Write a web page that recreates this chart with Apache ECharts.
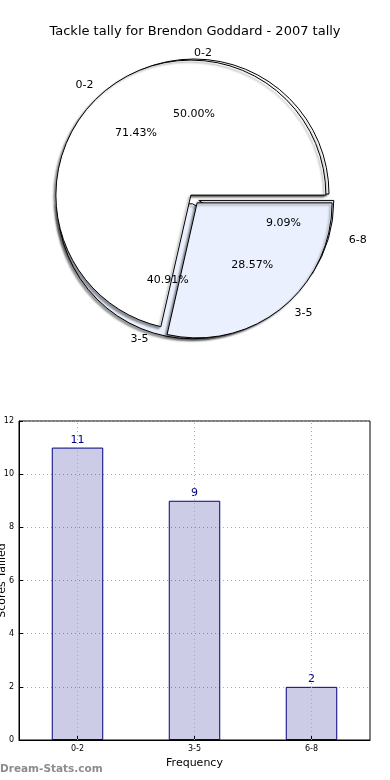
<!DOCTYPE html>
<html>
<head>
<meta charset="utf-8">
<script src="https://cdn.jsdelivr.net/npm/echarts@6/dist/echarts.min.js"></script>
<style>
  html, body { margin: 0; padding: 0; background: #fff; }
  #chart { width: 390px; height: 780px; }
</style>
</head>
<body>
<div id="chart"></div>
<script>
// ---- data ----
const chartTitle = 'Tackle tally for Brendon Goddard - 2007 tally';
const categories = ['0-2', '3-5', '6-8'];
const tallyValues = [11, 9, 2];
const overlayCategories = ['0-2', '3-5'];
const overlayValues = [5, 2];           // 71.43% / 28.57%
const yTickMin = 0, yTickMax = 12, yTickStep = 2;
const xAxisName = 'Frequency';
const yAxisName = 'Scores Tallied';
const watermark = 'Dream-Stats.com';

// ---- styling ----
const FONT = 'DejaVu Sans';
const CX = 194, CY = 199, R = 135;
const RX = 142, RY = 128;   // the reference pie is slightly elliptical; labels follow it
const EXPLODE = 5;
const sliceColors = ['#ffffff', '#eaf0fd', '#eaf0fd'];

function midAngles(values) {
  const sum = values.reduce((a, b) => a + b, 0);
  let cum = 0;
  return values.map(v => { const a = (cum + v / 2) / sum * 2 * Math.PI; cum += v; return a; });
}

function pieSlices(names, values) {
  return names.map((n, i) => ({
    name: n, value: values[i], selected: true,
    itemStyle: { color: sliceColors[i] }
  }));
}

function basePie(names, values, z) {
  return {
    type: 'pie', center: [CX, CY], radius: R,
    startAngle: 0, clockwise: false, z: z,
    selectedMode: 'multiple', selectedOffset: EXPLODE,
    silent: true, avoidLabelOverlap: false,
    label: { show: false }, labelLine: { show: false },
    emphasis: { disabled: true },
    itemStyle: {
      borderColor: '#000', borderWidth: 1,
      shadowColor: 'rgba(0,0,0,0.4)', shadowBlur: 2,
      shadowOffsetX: -2, shadowOffsetY: 2
    },
    data: pieSlices(names, values)
  };
}

function pctPie(names, values, z) {
  const sum = values.reduce((a, b) => a + b, 0);
  const mids = midAngles(values);
  const k = 0.6;
  return {
    type: 'pie', center: [CX, CY], radius: [0, RY * 2 * k],
    startAngle: 0, clockwise: false, z: z,
    selectedMode: 'multiple', selectedOffset: EXPLODE,
    silent: true, avoidLabelOverlap: false,
    itemStyle: { color: 'rgba(0,0,0,0)', borderWidth: 0 },
    emphasis: { disabled: true },
    labelLine: { show: false },
    data: names.map((n, i) => {
      const sx = k * (RX - RY) * Math.cos(mids[i]);
      const pad = [0, sx < 0 ? -2 * sx : 0, 0, sx > 0 ? 2 * sx : 0];
      return {
        name: n, value: values[i], selected: true,
        label: {
          show: true, position: 'inside', fontFamily: FONT, fontSize: 11, color: '#000',
          padding: pad,
          formatter: p => (p.value / sum * 100).toFixed(2) + '%'
        }
      };
    })
  };
}

function namePie(names, values, z) {
  const mids = midAngles(values);
  const k = 1.1;
  return {
    type: 'pie', center: [CX, CY], radius: RY * k,
    startAngle: 0, clockwise: false, z: z,
    selectedMode: 'multiple', selectedOffset: EXPLODE,
    silent: true, avoidLabelOverlap: false,
    itemStyle: { color: 'rgba(0,0,0,0)', borderWidth: 0 },
    emphasis: { disabled: true },
    labelLine: { show: false, length: 0, length2: 0 },
    data: names.map((n, i) => {
      const sx = k * (RX - RY) * Math.cos(mids[i]);
      const left = Math.cos(mids[i]) >= 0;
      const pad = [0, left ? 0 : Math.max(0, -sx), 0, left ? Math.max(0, sx) : 0];
      return {
        name: n, value: values[i], selected: true,
        label: {
          show: true, position: 'outside', fontFamily: FONT, fontSize: 11, color: '#000',
          distanceToLabelLine: 0, padding: pad, formatter: '{b}'
        }
      };
    })
  };
}

const chart = echarts.init(document.getElementById('chart'), null, { renderer: 'canvas' });

chart.setOption({
  animation: false,
  backgroundColor: '#fff',
  title: {
    text: chartTitle, left: 'center', top: 20,
    textStyle: { fontFamily: FONT, fontSize: 13, fontWeight: 'normal', color: '#000' }
  },
  graphic: [{
    type: 'text', left: 0, top: 764,
    style: { text: watermark, fontFamily: FONT, fontSize: 10.5, fontWeight: 'bold', fill: '#8c8c8c' }
  }],
  grid: {
    left: 19, right: 20, top: 421, bottom: 40,
    outerBoundsMode: 'none',
    show: true, borderColor: '#000', borderWidth: 1, containLabel: false
  },
  xAxis: {
    type: 'category', data: categories,
    name: xAxisName, nameLocation: 'middle', nameGap: 18, nameMoveOverlap: false,
    nameTextStyle: { fontFamily: FONT, fontSize: 11, color: '#000' },
    axisLine: { lineStyle: { color: '#000' } },
    axisTick: { show: true, alignWithLabel: true, inside: true, length: 4, lineStyle: { color: '#000' } },
    axisLabel: { fontFamily: FONT, fontSize: 8, color: '#000', margin: 5 },
    splitLine: { show: false }
  },
  yAxis: {
    type: 'value', min: yTickMin, max: yTickMax, interval: yTickStep,
    name: yAxisName, nameLocation: 'middle', nameGap: 17, nameMoveOverlap: false,
    nameRotate: 90,
    nameTextStyle: { fontFamily: FONT, fontSize: 11, color: '#000', verticalAlign: 'middle' },
    axisLine: { show: true, lineStyle: { color: '#000' } },
    axisTick: { show: true, inside: true, length: 4, lineStyle: { color: '#000' } },
    axisLabel: { fontFamily: FONT, fontSize: 8, color: '#000', margin: 5 },
    splitLine: { show: true, lineStyle: { color: '#aaa', type: [1, 3], width: 1 } }
  },
  series: [
    basePie(categories, tallyValues, 2),
    basePie(overlayCategories, overlayValues, 3),
    pctPie(categories, tallyValues, 4),
    pctPie(overlayCategories, overlayValues, 4),
    namePie(categories, tallyValues, 4),
    namePie(overlayCategories, overlayValues, 4),
    {
      type: 'bar', data: tallyValues, barWidth: '44%', silent: true,
      itemStyle: { color: 'rgba(0,0,128,0.2)', borderColor: '#000080', borderWidth: 1 },
      label: { show: true, position: 'top', distance: 2, fontFamily: FONT, fontSize: 11, color: '#000080' },
      markLine: {
        silent: true, symbol: 'none', label: { show: false },
        lineStyle: { color: '#aaa', type: [1, 3], width: 1 },
        data: categories.map(c => ({ xAxis: c }))
      }
    }
  ]
});
</script>
</body>
</html>
